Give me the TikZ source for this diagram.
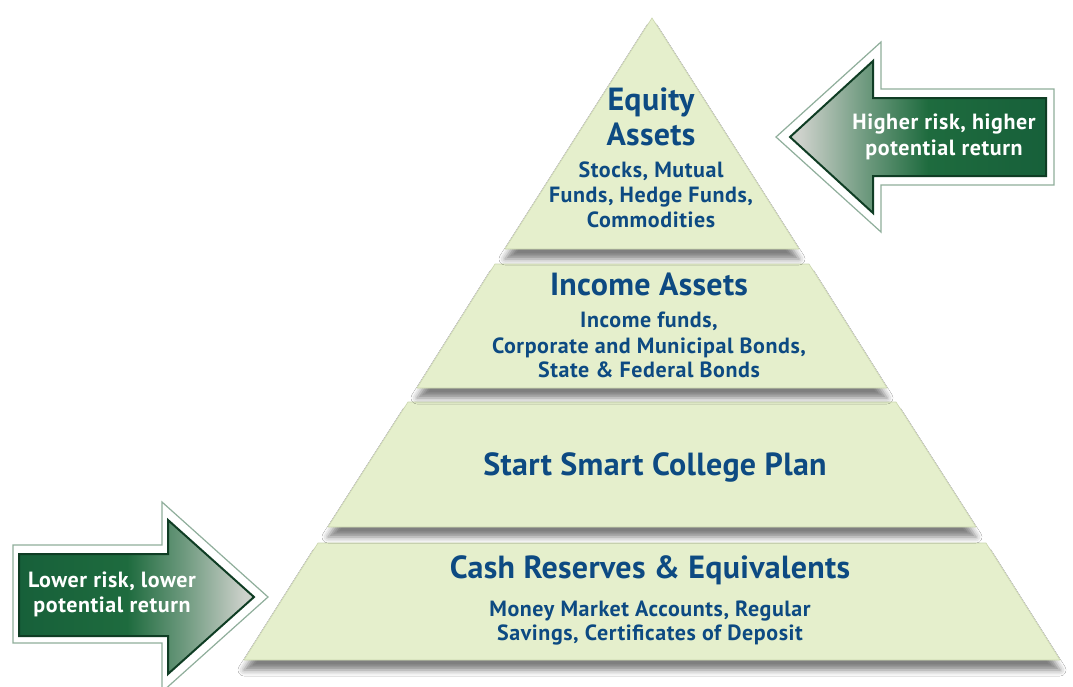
\documentclass[tikz,border=0pt]{standalone}
\usepackage{fontspec}
\newfontfamily\hfont[LetterSpace=1.0]{PT Sans}
\newfontfamily\sfnt[LetterSpace=2.6]{PT Sans}
\usetikzlibrary{shadows.blur}
\definecolor{layerfill}{HTML}{E5EFCC}
\definecolor{layeredge}{HTML}{CBD6AE}
\definecolor{textblue}{HTML}{0D4A82}
\definecolor{arrowdark}{HTML}{0F3D24}
\definecolor{arrowgreen}{HTML}{1E6B3E}
\definecolor{arrowdeep}{HTML}{17603A}
\definecolor{arrowlight}{HTML}{CDD1CB}
\definecolor{arrowrim}{HTML}{8FAE9B}
\pgfdeclarehorizontalshading{arrowshadeL}{100bp}{color(0bp)=(arrowlight); color(27bp)=(arrowlight); color(40bp)=(arrowlight!45!arrowgreen); color(52bp)=(arrowgreen); color(75bp)=(arrowdeep); color(100bp)=(arrowdeep)}
\pgfdeclarehorizontalshading{arrowshadeR}{100bp}{color(0bp)=(arrowdeep); color(25bp)=(arrowdeep); color(48bp)=(arrowgreen); color(60bp)=(arrowlight!45!arrowgreen); color(73bp)=(arrowlight); color(100bp)=(arrowlight)}
\tikzset{
  layer/.style={fill=layerfill, draw=layeredge, line width=0.6pt,
    blur shadow={shadow xshift=0pt, shadow yshift=-10pt, shadow opacity=50, shadow blur radius=6pt}},
  head/.style={font=\hfont\bfseries\fontsize{32}{34}\selectfont, text=textblue, anchor=base, inner sep=0pt},
  sub/.style={font=\sfnt\bfseries\fontsize{22}{24}\selectfont, text=textblue, anchor=base, inner sep=0pt},
  atext/.style={font=\sfnt\bfseries\fontsize{22}{24}\selectfont, text=white, anchor=base, inner sep=0pt},
  arrowouter/.style={fill=white, draw=arrowrim, line width=1.2pt, line join=miter},
  arrowinner/.style={draw=arrowdark, line width=2pt, line join=miter}
}
\begin{document}
\begin{tikzpicture}[x=1pt,y=-1pt]
\useasboundingbox (0,0) rectangle (1073,686);
\fill[white] (0,0) rectangle (1073,686);

% pyramid layers (bottom to top so shadows fall correctly)
\path[layer] (244,660) -- (318,543) -- (986,543) -- (1060,660) -- cycle;
\path[layer] (328,527) -- (408,402) -- (896,402) -- (976,527) -- cycle;
\path[layer] (417,388) -- (495,264) -- (809,264) -- (887,388) -- cycle;
\path[layer] (505,249) -- (652,18) -- (799,249) -- cycle;

% texts: equity
\node[head] (eq1) at (651,110) {Equity};
\node[head] (eq2) at (651,145) {Assets};
\node[sub] (eq3) at (651,177) {Stocks, Mutual};
\node[sub] (eq4) at (651,202) {Funds, Hedge Funds,};
\node[sub] (eq5) at (651,227) {Commodities};
% income
\node[head] (in1) at (649,295) {Income Assets};
\node[sub] (in2) at (649,327) {Income funds,};
\node[sub] (in3) at (649,353) {Corporate and Municipal Bonds,};
\node[sub] (in4) at (649,377) {State \& Federal Bonds};
% start smart
\node[head] (ss) at (655,475) {Start Smart College Plan};
% cash
\node[head] (ca1) at (650,578) {Cash Reserves \& Equivalents};
\node[sub] (ca2) at (650,616) {Money Market Accounts, Regular};
\node[sub] (ca3) at (650,640) {Savings, Certificates of Deposit};

% right arrow (pointing left)
\path[arrowouter] (776,137) -- (881,42) -- (881,89) -- (1054,89) -- (1054,185) -- (881,185) -- (881,232) -- cycle;
\path[arrowinner, shading=arrowshadeL]
  (790,137) -- (873,61) -- (873,98) -- (1046,98) -- (1046,176) -- (873,176) -- (873,213) -- cycle;
\node[atext] (hr1) at (944,129) {Higher risk, higher};
\node[atext] (hr2) at (944,155) {potential return};

% left arrow (pointing right)
\path[arrowouter] (13,545) -- (162,545) -- (162,502) -- (268,597) -- (162,692) -- (162,643) -- (13,643) -- cycle;
\path[arrowinner, shading=arrowshadeR]
  (19,554) -- (168,554) -- (168,520) -- (254,597) -- (168,674) -- (168,636) -- (19,636) -- cycle;
\node[atext] (lr1) at (112,587) {Lower risk, lower};
\node[atext] (lr2) at (112,612) {potential return};
\end{tikzpicture}
\end{document}
